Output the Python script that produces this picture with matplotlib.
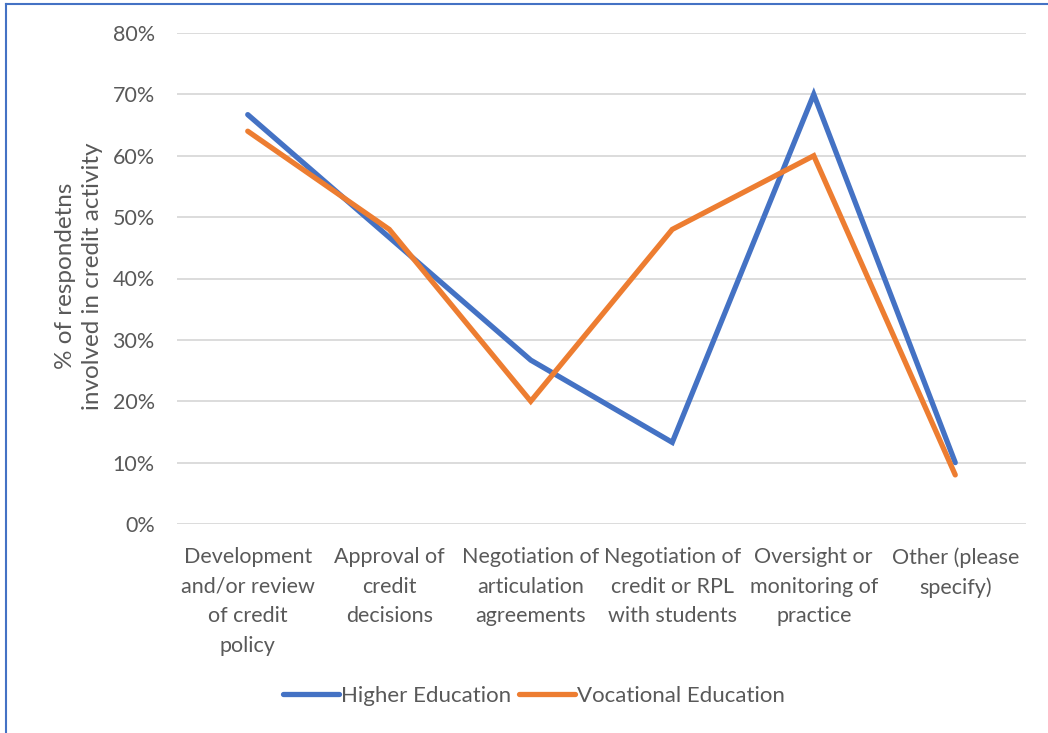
import matplotlib
matplotlib.use("Agg")
import matplotlib.pyplot as plt
from matplotlib.lines import Line2D

categories = ["Development\nand/or review\nof credit\npolicy",
              "Approval of\ncredit\ndecisions",
              "Negotiation of\narticulation\nagreements",
              "Negotiation of\ncredit or RPL\nwith students",
              "Oversight or\nmonitoring of\npractice",
              "Other (please\nspecify)"]
higher_ed = [0.667, 0.467, 0.267, 0.133, 0.70, 0.10]
vocational_ed = [0.64, 0.48, 0.20, 0.48, 0.60, 0.08]
yticks = [0, 0.1, 0.2, 0.3, 0.4, 0.5, 0.6, 0.7, 0.8]
ytick_labels = ["0%", "10%", "20%", "30%", "40%", "50%", "60%", "70%", "80%"]

plt.rcParams['font.family'] = ['Lato', 'DejaVu Sans']
txt = '#595959'
fs = 15.5

fig = plt.figure(figsize=(10.48, 7.33), dpi=100)
ax = fig.add_axes([177/1048, 1-524/733, (1026-177)/1048, (524-33)/733])

x = list(range(len(categories)))
ax.plot(x, higher_ed, color='#4472C4', lw=3.8, solid_capstyle='round', solid_joinstyle='miter', label='Higher Education', zorder=3)
ax.plot(x, vocational_ed, color='#ED7D31', lw=3.8, solid_capstyle='round', solid_joinstyle='miter', label='Vocational Education', zorder=3)

ax.set_xlim(-0.5, len(categories) - 0.5)
ax.set_ylim(0, 0.8)
ax.set_yticks(yticks)
ax.set_yticklabels(ytick_labels, fontsize=fs, color=txt)
ax.set_xticks(x)
ax.set_xticklabels(categories, fontsize=fs, color=txt, linespacing=1.6, va='top')
ax.tick_params(axis='both', length=0)
ax.tick_params(axis='y', pad=16)
ax.tick_params(axis='x', pad=16.5)
ax.grid(axis='y', color='#D9D9D9', lw=1.3)
ax.set_axisbelow(True)
for s in ax.spines.values():
    s.set_visible(False)

fig.text(79/1048, 1-276/733, "% of respondetns\ninvolved in credit activity", rotation=90,
         ha='center', va='center', fontsize=17.5, color=txt, linespacing=1.3)

handles = [Line2D([0], [0], color='#4472C4', lw=3.8, solid_capstyle='round'),
           Line2D([0], [0], color='#ED7D31', lw=3.8, solid_capstyle='round')]
leg = fig.legend(handles, ['Higher Education', 'Vocational Education'], loc='center',
                 bbox_to_anchor=(534/1048, 1-696/733), ncol=2, frameon=False,
                 fontsize=16, handlelength=2.5, handletextpad=0.1, columnspacing=0.35)
for t in leg.get_texts():
    t.set_color(txt)

# frame border (left and top visible)
fig.add_artist(Line2D([6/1048, 6/1048], [0, 1-4/733], color='#4472C4', lw=1.5, transform=fig.transFigure))
fig.add_artist(Line2D([6/1048, 1], [1-4/733, 1-4/733], color='#4472C4', lw=1.5, transform=fig.transFigure))

fig.savefig('out.png', dpi=100)
